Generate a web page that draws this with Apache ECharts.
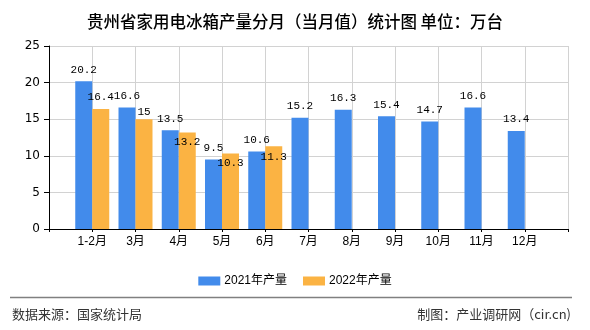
<!DOCTYPE html>
<html>
<head>
<meta charset="utf-8">
<script src="https://cdn.jsdelivr.net/npm/echarts@6/dist/echarts.min.js"></script>
<style>
html,body{margin:0;padding:0;background:#fff;}
#c{width:590px;height:330px;}
</style>
</head>
<body>
<div id="c"></div>
<script>
// ---- data ----
const categories = ['1-2月','3月','4月','5月','6月','7月','8月','9月','10月','11月','12月'];
const series2021 = [20.2, 16.6, 13.5, 9.5, 10.6, 15.2, 16.3, 15.4, 14.7, 16.6, 13.4];
const series2022 = [16.4, 15, 13.2, 10.3, 11.3];
const seriesNames = ['2021年产量', '2022年产量'];
const yTicks = [0, 5, 10, 15, 20, 25];
const titleText = '贵州省家用电冰箱产量分月（当月值）统计图 单位：万台';
const sourceText = '数据来源：国家统计局';
const creditText = '制图：产业调研网（cir.cn)';

// ---- styling ----
const blue = '#428BEB';
const orange = '#FBB343';
const labelFont = '"Liberation Mono","Noto Sans CJK SC",monospace';
const orangeLabelDy = [0, 4, 21, 21, 22];

// pad categories with empty slots at both ends (axis without boundary gap)
const cats = [''].concat(categories, ['']);
const pad = (arr) => {
  const out = ['-'];
  for (let i = 0; i < categories.length; i++) out.push(i < arr.length ? arr[i] : '-');
  out.push('-');
  return out;
};
const d2021 = pad(series2021);
const d2022 = pad(series2022).map((v, i) => {
  if (v === '-') return v;
  return { value: v, label: { offset: [0, orangeLabelDy[i - 1] || 0] } };
});

const chart = echarts.init(document.getElementById('c'), null, { renderer: 'canvas' });
chart.setOption({
  animation: false,
  backgroundColor: '#fff',
  title: {
    text: titleText,
    left: 'center',
    top: 8,
    textStyle: { fontSize: 16.5, fontWeight: 500, color: '#000', fontFamily: '"Noto Sans CJK SC",sans-serif' }
  },
  legend: {
    data: seriesNames,
    left: 'center',
    top: 270,
    itemWidth: 22,
    itemHeight: 9,
    itemGap: 16,
    icon: 'rect',
    textStyle: { fontSize: 12, color: '#000', fontFamily: '"Liberation Sans","Noto Sans CJK SC",sans-serif', padding: [0,0,0,-1] }
  },
  grid: { left: 49, right: 22, top: 46, bottom: 101, containLabel: false },
  xAxis: {
    type: 'category',
    data: cats,
    boundaryGap: false,
    axisLine: { lineStyle: { color: '#000', width: 1 } },
    axisTick: { show: true, interval: 0, length: 3, lineStyle: { color: '#000' } },
    axisLabel: { interval: 0, fontSize: 12, color: '#000', margin: 7, fontFamily: '"Liberation Sans","Noto Sans CJK SC",sans-serif' },
    splitLine: { show: true, interval: 0, lineStyle: { color: '#d2d2d2', width: 1 } }
  },
  yAxis: {
    type: 'value',
    min: yTicks[0],
    max: yTicks[yTicks.length - 1],
    interval: yTicks[1] - yTicks[0],
    axisLine: { show: true, lineStyle: { color: '#000', width: 1 } },
    axisTick: { show: true, length: 5, lineStyle: { color: '#000' } },
    axisLabel: { fontSize: 12, color: '#000', margin: 9, fontFamily: '"DejaVu Sans",sans-serif' },
    splitLine: { show: true, lineStyle: { color: '#d2d2d2', width: 1 } }
  },
  series: [
    {
      name: seriesNames[0],
      type: 'bar',
      data: d2021,
      barWidth: 17,
      barGap: '0%',
      itemStyle: { color: blue },
      label: { show: true, position: 'top', distance: 6, fontSize: 11, color: '#000', fontFamily: labelFont }
    },
    {
      name: seriesNames[1],
      type: 'bar',
      data: d2022,
      barWidth: 17,
      barGap: '0%',
      itemStyle: { color: orange },
      label: { show: true, position: 'top', distance: 6, fontSize: 11, color: '#000', fontFamily: labelFont }
    }
  ],
  graphic: [
    { type: 'line', shape: { x1: 10, y1: 297.5, x2: 572, y2: 297.5 }, style: { stroke: '#808080', lineWidth: 1.5 } },
    { type: 'text', left: 12, top: 308, style: { text: sourceText, fontSize: 13, fill: '#333', fontFamily: '"Noto Sans CJK SC",sans-serif' } },
    { type: 'text', right: 19, top: 308, style: { text: creditText, fontSize: 13, fill: '#333', fontFamily: '"Noto Sans CJK SC",sans-serif' } }
  ]
});
</script>
</body>
</html>
